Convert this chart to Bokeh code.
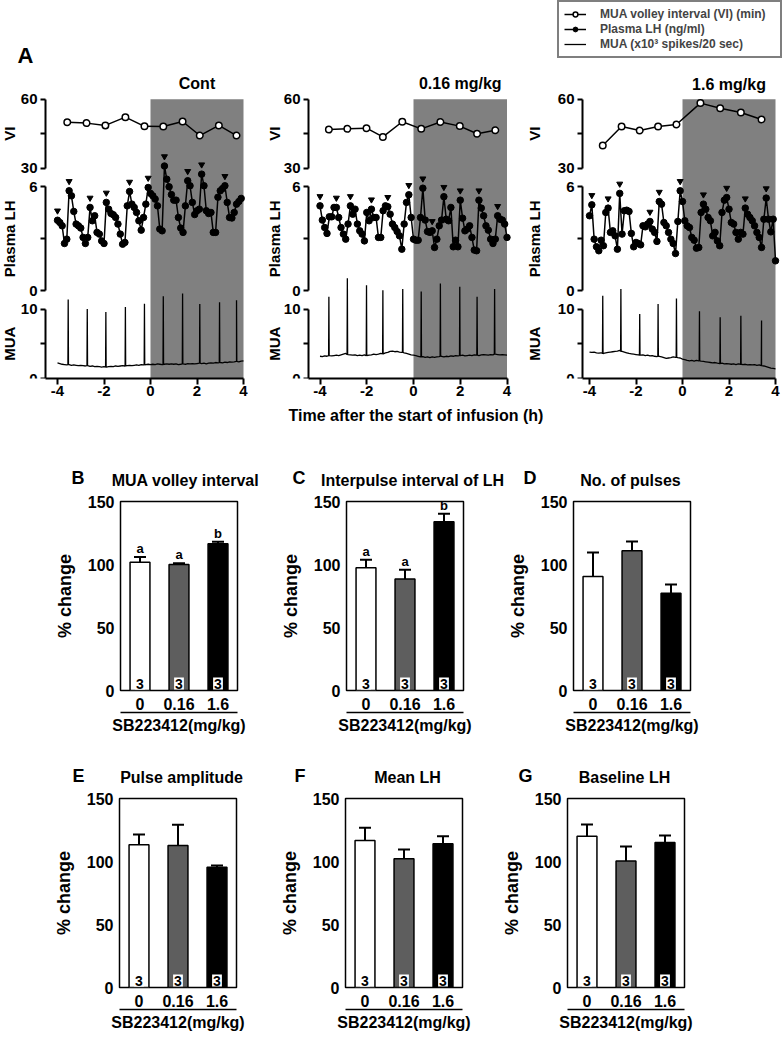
import math
from bokeh.plotting import figure
from bokeh.models import (Range1d, LinearAxis, FixedTicker, BoxAnnotation,
                          Legend, LegendItem, FactorRange, CategoricalAxis,
                          ColumnDataSource)
from bokeh.layouts import row, column
from bokeh.embed import file_html
from bokeh.resources import INLINE
from bokeh.core.properties import value

FONT = "Liberation Sans"

# ---------------------------------------------------------------- data: panel A
INFUSION = (0, 4)
TIME_TICKS = [-4, -2, 0, 2, 4]
VI_AXIS = (30, 45, 60)
LH_AXIS = (0, 3, 6)
MUA_AXIS = (0, 5, 10)
COL_TITLES = ["Cont", "0.16 mg/kg", "1.6 mg/kg"]
X_TITLE = "Time after the start of infusion (h)"

LH_T0, LH_DT = -4.0, 0.1
LH_CONT = [4.07, 3.94, 3.75, 2.73, 2.98, 5.77, 5.48, 4.58, 3.85, 3.75,
           3.62, 3.08, 2.73, 3.08, 4.81, 4.04, 4.33, 3.37, 3.27, 2.88,
           2.73, 5.10, 4.71, 4.46, 4.39, 4.23, 3.85, 3.27, 2.69, 2.79,
           4.90, 5.73, 5.00, 4.81, 4.52, 4.04, 3.50, 4.23, 5.00, 5.96,
           5.62, 5.48, 5.29, 4.90, 3.56, 3.46, 7.20, 6.44, 6.00, 5.55,
           5.23, 5.23, 4.23, 3.62, 3.37, 4.90, 6.35, 6.06, 5.10, 4.40,
           4.62, 4.71, 6.73, 6.06, 4.62, 4.46, 4.52, 3.37, 3.37, 5.40,
           5.77, 5.90, 6.06, 5.10, 4.23, 4.20, 4.52, 5.00, 5.15, 5.33]
LH_016 = [4.90, 4.08, 3.65, 3.31, 4.27, 4.27, 4.81, 4.81, 4.23, 3.65,
          3.27, 2.98, 3.85, 4.90, 4.42, 4.71, 3.85, 3.46, 3.27, 2.88,
          4.52, 4.04, 4.71, 4.23, 4.23, 3.08, 3.08, 4.62, 4.90, 4.85,
          4.42, 3.85, 3.65, 3.42, 3.17, 2.40, 3.85, 5.10, 5.54, 4.23,
          2.98, 2.92, 2.92, 4.23, 5.92, 4.08, 3.42, 3.37, 3.46, 2.50,
          2.98, 3.75, 4.08, 5.43, 4.13, 4.04, 4.81, 2.54, 2.92, 2.54,
          5.23, 4.19, 3.46, 3.56, 3.75, 3.08, 2.35, 2.31, 5.23, 4.77,
          4.33, 3.75, 3.50, 2.98, 2.73, 2.98, 4.33, 4.13, 4.08, 3.85,
          3.08]
LH_16 = [4.33, 4.96, 2.98, 2.54, 2.31, 2.92, 2.60, 4.52, 4.77, 3.37,
         3.46, 3.17, 2.40, 5.62, 3.27, 4.62, 4.65, 4.58, 3.31, 2.54,
         2.79, 2.73, 2.65, 3.75, 3.69, 3.85, 4.00, 3.56, 3.37, 2.85,
         5.15, 5.00, 3.94, 3.75, 3.37, 2.98, 2.73, 2.15, 4.00, 5.77,
         5.15, 4.04, 3.75, 3.65, 3.08, 2.92, 2.46, 2.50, 4.52, 5.00,
         4.71, 4.23, 4.04, 3.17, 3.37, 2.88, 2.60, 4.52, 5.23, 5.38,
         4.71, 3.94, 3.85, 3.37, 2.98, 3.37, 3.27, 4.77, 4.42, 4.23,
         4.04, 3.75, 3.37, 3.08, 2.50, 4.13, 5.35, 4.13, 3.40, 4.13,
         1.73]
PULSE_IDX_CONT = [0, 5, 14, 21, 31, 39, 46, 56, 62, 72]
PULSE_IDX_016 = [0, 7, 13, 22, 29, 38, 44, 48, 53, 60, 68, 76]
PULSE_IDX_16 = [1, 8, 13, 26, 30, 39, 49, 59, 67, 76]

VI_T_CONT = [-3.58, -2.75, -1.94, -1.08, -0.26, 0.55, 1.38, 2.12, 2.94, 3.70]
VI_CONT = [50.0, 49.6, 48.6, 52.2, 48.2, 48.1, 50.3, 44.2, 48.6, 44.2]
VI_T_016 = [-3.62, -2.83, -2.01, -1.31, -0.48, 0.33, 1.15, 1.98, 2.72, 3.50]
VI_016 = [46.8, 47.1, 47.4, 43.6, 50.2, 47.1, 50.1, 48.3, 45.0, 46.5]
VI_T_16 = [-3.43, -2.62, -1.84, -1.05, -0.26, 0.77, 1.62, 2.51, 3.40]
VI_16 = [39.9, 48.1, 46.4, 48.1, 49.0, 58.3, 56.1, 54.2, 51.2]

MUA_T0, MUA_DT = -4.0, 0.1
MUA_BASE_CONT = [2.25, 2.15, 2.05, 2.0, 1.95, 2.0, 1.9, 1.95, 1.9, 1.85,
                 1.9, 1.85, 1.8, 1.85, 1.75, 1.8, 1.7, 1.75, 1.7, 1.65,
                 1.7, 1.65, 1.7, 1.75, 1.7, 1.8, 1.75, 1.8, 1.85, 1.8,
                 1.85, 1.9, 1.85, 1.9, 1.95, 1.9, 2.0, 1.95, 2.0, 2.05,
                 2.0, 2.05, 2.0, 2.1, 2.05, 2.0, 2.05, 2.1, 2.05, 2.1,
                 2.05, 2.1, 2.0, 2.05, 2.1, 2.05, 2.15, 2.1, 2.15, 2.1,
                 2.15, 2.2, 2.15, 2.2, 2.1, 2.2, 2.25, 2.2, 2.3, 2.25,
                 2.3, 2.25, 2.35, 2.3, 2.4, 2.35, 2.4, 2.45, 2.4, 2.5,
                 2.55]
MUA_BASE_016 = [3.2, 3.15, 3.25, 3.2, 3.3, 3.25, 3.3, 3.35, 3.3, 3.4,
                3.5, 3.6, 3.45, 3.4, 3.35, 3.4, 3.3, 3.35, 3.3, 3.4,
                3.3, 3.35, 3.4, 3.5, 3.45, 3.5, 3.6, 3.55, 3.7, 3.75,
                3.9, 3.95, 3.85, 3.9, 3.8, 3.75, 3.7, 3.6, 3.5, 3.4,
                3.35, 3.3, 3.2, 3.1, 3.15, 3.05, 3.1, 3.0, 3.1, 3.05,
                3.1, 3.15, 3.2, 3.1, 3.2, 3.15, 3.25, 3.2, 3.3, 3.25,
                3.3, 3.35, 3.25, 3.3, 3.35, 3.3, 3.4, 3.35, 3.3, 3.4,
                3.45, 3.4, 3.35, 3.45, 3.4, 3.5, 3.45, 3.4, 3.45, 3.4,
                3.35]
MUA_BASE_16 = [3.8, 3.75, 3.8, 3.7, 3.65, 3.7, 3.6, 3.7, 3.75, 3.8,
               3.85, 3.9, 3.95, 4.05, 3.9, 3.8, 3.7, 3.6, 3.55, 3.5,
               3.45, 3.4, 3.35, 3.4, 3.3, 3.35, 3.25, 3.3, 3.2, 3.15,
               3.2, 3.1, 3.0, 2.9, 2.95, 3.0, 3.1, 3.05, 3.0, 2.95,
               2.8, 2.7, 2.6, 2.55, 2.6, 2.5, 2.6, 2.55, 2.5, 2.45,
               2.4, 2.35, 2.3, 2.25, 2.3, 2.2, 2.15, 2.2, 2.1, 2.15,
               2.1, 2.05, 2.1, 2.0, 2.1, 2.05, 2.0, 2.05, 1.95, 2.0,
               1.95, 2.0, 1.9, 1.95, 1.85, 1.8, 1.7, 1.6, 1.5, 1.45,
               1.4]
SPIKE_T_CONT = [-3.54, -2.72, -1.92, -1.08, -0.26, 0.55, 1.38, 2.12, 2.97, 3.70]
SPIKE_V_CONT = [11.35, 10.0, 9.57, 10.29, 10.77, 11.83, 12.22, 10.72, 10.96, 11.25]
SPIKE_T_016 = [-3.62, -2.83, -2.01, -1.31, -0.46, 0.33, 1.15, 1.98, 2.72, 3.47]
SPIKE_V_016 = [11.76, 14.43, 13.43, 12.71, 12.86, 12.51, 13.66, 13.19, 11.76, 12.86]
SPIKE_T_16 = [-3.43, -2.65, -1.84, -1.05, -0.26, 0.73, 1.62, 2.51, 3.40]
SPIKE_V_16 = [11.9, 12.86, 9.29, 10.71, 11.51, 9.66, 8.8, 9.04, 8.33]

LEGEND_LABELS = ["MUA volley interval (VI) (min)", "Plasma LH (ng/ml)",
                 "MUA (x10\u00b3 spikes/20 sec)"]

# ---------------------------------------------------------------- data: panels B-G
DOSES = ["0", "0.16", "1.6"]
DOSE_TITLE = "SB223412(mg/kg)"
N_ANIMALS = ["3", "3", "3"]
PCT_TICKS = [0, 50, 100, 150]
MUA_VI_MEAN = [101.8, 100.0, 116.5]
MUA_VI_SEM = [4.2, 1.0, 1.5]
MUA_VI_SIG = ["a", "a", "b"]
IPI_MEAN = [97.4, 88.4, 133.9]
IPI_SEM = [6.3, 7.4, 6.3]
IPI_SIG = ["a", "a", "b"]
NPULSE_MEAN = [90.5, 110.9, 77.2]
NPULSE_SEM = [19.0, 7.3, 6.9]
AMP_MEAN = [113.2, 112.7, 95.5]
AMP_SEM = [8.2, 16.4, 1.3]
MEANLH_MEAN = [116.7, 102.1, 114.0]
MEANLH_SEM = [10.0, 7.4, 6.1]
BASELH_MEAN = [120.1, 100.3, 115.1]
BASELH_SEM = [9.3, 11.6, 5.5]

# ---------------------------------------------------------------- styles
GREY_BOX = "#808080"
BAR_COLORS = ["white", "#5e5e5e", "black"]
PAGE_W = 782


def px_map(p_a, a, p_b, b):
    return lambda p: a + (b - a) * (p - p_a) / (p_b - p_a)


def style_axis(ax, size="15px", lw=2):
    ax.axis_line_width = lw
    ax.axis_line_color = "black"
    ax.major_tick_line_width = lw
    ax.major_tick_line_color = "black"
    ax.major_tick_in = 0
    ax.major_tick_out = 5
    ax.minor_tick_line_color = None
    ax.major_label_text_font = FONT
    ax.major_label_text_font_style = "bold"
    ax.major_label_text_font_size = size
    ax.major_label_text_color = "black"
    ax.axis_label_text_color = "black"


def txt(p, x, y, s, size, align="center", **kw):
    p.text(x=[x], y=[y], text=[s], text_align=align, text_baseline="middle",
           text_font=value(FONT), text_font_style="bold", text_font_size=size,
           text_color="black", **kw)


def mua_trace(base, sp_t, sp_v):
    pts = [(MUA_T0 + MUA_DT * i, v) for i, v in enumerate(base)]
    for ts, vs in zip(sp_t, sp_v):
        i = min(max(int(round((ts - MUA_T0) / MUA_DT)), 0), len(base) - 1)
        b = base[i]
        pts += [(ts - 0.012, b), (ts, vs), (ts + 0.012, b)]
    pts.sort()
    return [p[0] for p in pts], [p[1] for p in pts]


# ---------------------------------------------------------------- panel A layout
TOP_TOP, TOP_BOTTOM, TOP_HEIGHT = 0, 378, 402
SERIES = [
    dict(lh=LH_CONT, pulses=PULSE_IDX_CONT, vi_t=VI_T_CONT, vi=VI_CONT,
         base=MUA_BASE_CONT, sp_t=SPIKE_T_CONT, sp_v=SPIKE_V_CONT),
    dict(lh=LH_016, pulses=PULSE_IDX_016, vi_t=VI_T_016, vi=VI_016,
         base=MUA_BASE_016, sp_t=SPIKE_T_016, sp_v=SPIKE_V_016),
    dict(lh=LH_16, pulses=PULSE_IDX_16, vi_t=VI_T_16, vi=VI_16,
         base=MUA_BASE_16, sp_t=SPIKE_T_16, sp_v=SPIKE_V_16),
]
GEOM = [
    dict(left=0, right=255, zero=150.0, four=243.0, axis=45, lab=9, tdy=-16),
    dict(left=255, right=520, zero=413.0, four=506.5, axis=308, lab=274, tdy=-16),
    dict(left=520, right=782, zero=682.0, four=775.0, axis=582, lab=534, tdy=-15),
]


def time_panel(k):
    s, g = SERIES[k], GEOM[k]
    fx = px_map(g["zero"], INFUSION[0], g["four"], INFUSION[1])
    fmua = px_map(378.0, MUA_AXIS[0], 308.5, MUA_AXIS[2])
    fvi = px_map(98.7, VI_AXIS[2], 167.7, VI_AXIS[0])
    flh = px_map(186.3, LH_AXIS[2], 290.3, LH_AXIS[0])
    ax_x = fx(g["axis"])
    p = figure(width=g["right"] - g["left"], height=TOP_HEIGHT,
               x_range=Range1d(fx(g["left"]), fx(g["right"])),
               y_range=Range1d(fmua(TOP_BOTTOM), fmua(TOP_TOP)),
               x_axis_location=None, y_axis_location=None,
               output_backend="svg", toolbar_location=None,
               min_border_left=0, min_border_right=0, min_border_top=0,
               min_border_bottom=TOP_HEIGHT - (TOP_BOTTOM - TOP_TOP),
               outline_line_color=None)
    p.extra_y_ranges = {"vi": Range1d(fvi(TOP_BOTTOM), fvi(TOP_TOP)),
                        "lh": Range1d(flh(TOP_BOTTOM), flh(TOP_TOP))}
    p.xgrid.visible = False
    p.ygrid.visible = False

    p.add_layout(BoxAnnotation(left=INFUSION[0], right=INFUSION[1], top=VI_AXIS[2],
                               y_range_name="vi", fill_color=GREY_BOX, fill_alpha=1.0,
                               line_color=None, level="underlay"))

    xa = LinearAxis(ticker=FixedTicker(ticks=TIME_TICKS), bounds=(ax_x, INFUSION[1]),
                    major_label_overrides={t: str(t) for t in TIME_TICKS})
    style_axis(xa)
    xa.major_tick_out = 6
    xa.major_label_standoff = 1
    p.add_layout(xa, "below")

    for rname, (lo, mid, hi), lab in [("vi", VI_AXIS, "VI"), ("lh", LH_AXIS, "Plasma LH"),
                                      ("default", MUA_AXIS, "MUA")]:
        ya = LinearAxis(y_range_name=rname, fixed_location=ax_x, bounds=(lo, hi),
                        ticker=FixedTicker(ticks=[lo, mid, hi]),
                        major_label_overrides={mid: ""})
        style_axis(ya)
        ya.major_label_standoff = 3
        p.add_layout(ya, "left")
        txt(p, ax_x, mid, lab, "15px", y_range_name=rname, angle=math.pi / 2,
            x_offset=g["lab"] - g["axis"])

    txt(p, (INFUSION[0] + INFUSION[1]) / 2, VI_AXIS[2], COL_TITLES[k], "16px",
        y_range_name="vi", y_offset=g["tdy"])

    # VI
    vi_line = p.line(s["vi_t"], s["vi"], y_range_name="vi", line_color="black", line_width=1.5)
    vi_pts = p.scatter(s["vi_t"], s["vi"], y_range_name="vi", marker="circle", size=6.5,
                       fill_color="white", line_color="black", line_width=1.5)
    # LH
    lh_t = [LH_T0 + LH_DT * i for i in range(len(s["lh"]))]
    lh_line = p.line(lh_t, s["lh"], y_range_name="lh", line_color="black", line_width=1.5)
    lh_pts = p.scatter(lh_t, s["lh"], y_range_name="lh", marker="circle", size=6.5,
                       fill_color="black", line_color="black")
    gap = 9.5 / ((290.3 - 186.3) / (LH_AXIS[2] - LH_AXIS[0]))
    p.scatter([lh_t[i] for i in s["pulses"]], [s["lh"][i] + gap for i in s["pulses"]],
              y_range_name="lh", marker="inverted_triangle", size=6,
              fill_color="black", line_color="black")
    # MUA
    mx, my = mua_trace(s["base"], s["sp_t"], s["sp_v"])
    mua_line = p.line(mx, my, line_color="black", line_width=1.3)

    if k == 0:
        txt(p, ax_x, VI_AXIS[2], "A", "22px", align="left", y_range_name="vi",
            x_offset=17 - g["axis"], y_offset=55 - 98.7)
    if k == 2:
        leg = Legend(items=[LegendItem(label=LEGEND_LABELS[0], renderers=[vi_line, vi_pts]),
                            LegendItem(label=LEGEND_LABELS[1], renderers=[lh_line, lh_pts]),
                            LegendItem(label=LEGEND_LABELS[2], renderers=[mua_line])],
                     location="top_right", margin=0, padding=5, spacing=1,
                     label_text_font=FONT, label_text_font_style="bold",
                     label_text_font_size="12px", glyph_width=22, glyph_height=12,
                     label_height=12, label_standoff=14, label_width=175,
                     border_line_color="black", border_line_width=2,
                     background_fill_color="white", background_fill_alpha=1.0)
        p.add_layout(leg)
    return p


tops = [time_panel(k) for k in range(3)]


# ---------------------------------------------------------------- text strips
def strip(top, bottom, items):
    p = figure(width=PAGE_W, height=bottom - top, x_range=Range1d(0, PAGE_W),
               y_range=Range1d(bottom, top), x_axis_location=None, y_axis_location=None,
               output_backend="svg", toolbar_location=None, min_border=0,
               outline_line_color=None)
    p.xgrid.visible = False
    p.ygrid.visible = False
    for s, x, y, size, align in items:
        txt(p, x, y, s, size, align=align)
    return p


BAR_TITLES = ["MUA volley interval", "Interpulse interval of LH", "No. of pulses",
              "Pulse amplitude", "Mean LH", "Baseline LH"]
LETTERS = ["B", "C", "D", "E", "F", "G"]
LETTER_POS = [(71, 477), (292, 477), (523, 477), (72, 775), (294, 775), (518, 775)]
TITLE_POS = [(185, 480), (412, 480), (630, 480), (181, 777), (407, 777), (624, 777)]

strip1 = strip(402, 495, [(X_TITLE, 415.5, 415, "16px", "center")] +
               [(LETTERS[i], LETTER_POS[i][0], LETTER_POS[i][1], "18px", "left") for i in range(3)] +
               [(BAR_TITLES[i], TITLE_POS[i][0], TITLE_POS[i][1], "16px", "center") for i in range(3)])
strip2 = strip(738, 792,
               [(LETTERS[i], LETTER_POS[i][0], LETTER_POS[i][1], "18px", "left") for i in range(3, 6)] +
               [(BAR_TITLES[i], TITLE_POS[i][0], TITLE_POS[i][1], "16px", "center") for i in range(3, 6)])

# ---------------------------------------------------------------- bar panels
BAR_FRAME_W = 117
ROWS = [dict(top=495, frame_top=501, frame_bottom=690, bottom=738),
        dict(top=792, frame_top=798, frame_bottom=987, bottom=1037)]
PANELS = [
    (MUA_VI_MEAN, MUA_VI_SEM, MUA_VI_SIG, (0, 250, 120), 0),
    (IPI_MEAN, IPI_SEM, IPI_SIG, (250, 480, 346), 0),
    (NPULSE_MEAN, NPULSE_SEM, None, (480, 782, 573), 0),
    (AMP_MEAN, AMP_SEM, None, (0, 250, 119), 1),
    (MEANLH_MEAN, MEANLH_SEM, None, (250, 478, 345), 1),
    (BASELH_MEAN, BASELH_SEM, None, (478, 782, 567), 1),
]


def bar_panel(means, sems, sig, geom, r):
    fig_l, fig_r, frame_l = geom
    rg = ROWS[r]
    p = figure(width=fig_r - fig_l, height=rg["bottom"] - rg["top"],
               x_range=FactorRange(*DOSES), y_range=Range1d(PCT_TICKS[0], PCT_TICKS[-1]),
               output_backend="svg", toolbar_location=None,
               min_border_left=frame_l - fig_l,
               min_border_right=fig_r - frame_l - BAR_FRAME_W,
               min_border_top=rg["frame_top"] - rg["top"],
               min_border_bottom=rg["bottom"] - rg["frame_bottom"],
               outline_line_color="black", outline_line_width=1.5)
    p.xgrid.visible = False
    p.ygrid.visible = False
    src = ColumnDataSource(dict(dose=DOSES, mean=means,
                                upper=[m + e for m, e in zip(means, sems)],
                                color=BAR_COLORS, n=N_ANIMALS,
                                sig=sig if sig else [""] * len(DOSES)))
    p.vbar(x="dose", top="mean", width=0.51, bottom=0, fill_color="color",
           line_color="black", line_width=1.5, source=src)
    p.segment(x0="dose", y0="mean", x1="dose", y1="upper", line_color="black",
              line_width=2, source=src)
    p.scatter(x="dose", y="upper", marker="dash", size=12, line_color="black",
              line_width=2, source=src)
    p.text(x="dose", y=0, text="n", source=src, text_align="center",
           text_baseline="bottom", y_offset=-1, text_font=value(FONT),
           text_font_style="bold", text_font_size="14px", text_color="black",
           background_fill_color="white", padding=1)
    if sig:
        p.text(x="dose", y="upper", text="sig", source=src, text_align="center",
               text_baseline="bottom", y_offset=-1, text_font=value(FONT),
               text_font_style="bold", text_font_size="13px", text_color="black")

    ya = p.yaxis[0]
    ya.ticker = FixedTicker(ticks=PCT_TICKS)
    style_axis(ya, size="16px")
    ya.axis_line_color = None
    ya.major_tick_line_color = None
    ya.major_tick_out = 0
    ya.major_label_standoff = 6
    ya.axis_label = "% change"
    ya.axis_label_text_font = FONT
    ya.axis_label_text_font_style = "bold"
    ya.axis_label_text_font_size = "18px"
    ya.axis_label_standoff = 10

    xa = p.xaxis[0]
    style_axis(xa, size="16px")
    xa.axis_line_color = None
    xa.major_tick_line_color = None
    xa.major_tick_out = 0
    xa.major_label_standoff = 7

    xa2 = CategoricalAxis(axis_label=DOSE_TITLE)
    xa2.axis_line_width = 1.5
    xa2.axis_line_color = "black"
    xa2.major_tick_line_color = None
    xa2.major_tick_out = 0
    xa2.major_label_text_font_size = "0px"
    xa2.major_label_text_color = None
    xa2.major_label_standoff = 0
    xa2.axis_label_text_font = FONT
    xa2.axis_label_text_font_style = "bold"
    xa2.axis_label_text_font_size = "16px"
    xa2.axis_label_text_color = "black"
    xa2.axis_label_standoff = 4
    p.add_layout(xa2, "below")
    return p


bars = [bar_panel(*spec) for spec in PANELS]

layout = column(row(*tops), strip1, row(*bars[:3]), strip2, row(*bars[3:]))
open("out.html", "w").write(file_html(layout, INLINE, title="SB223412 MUA and LH"))
